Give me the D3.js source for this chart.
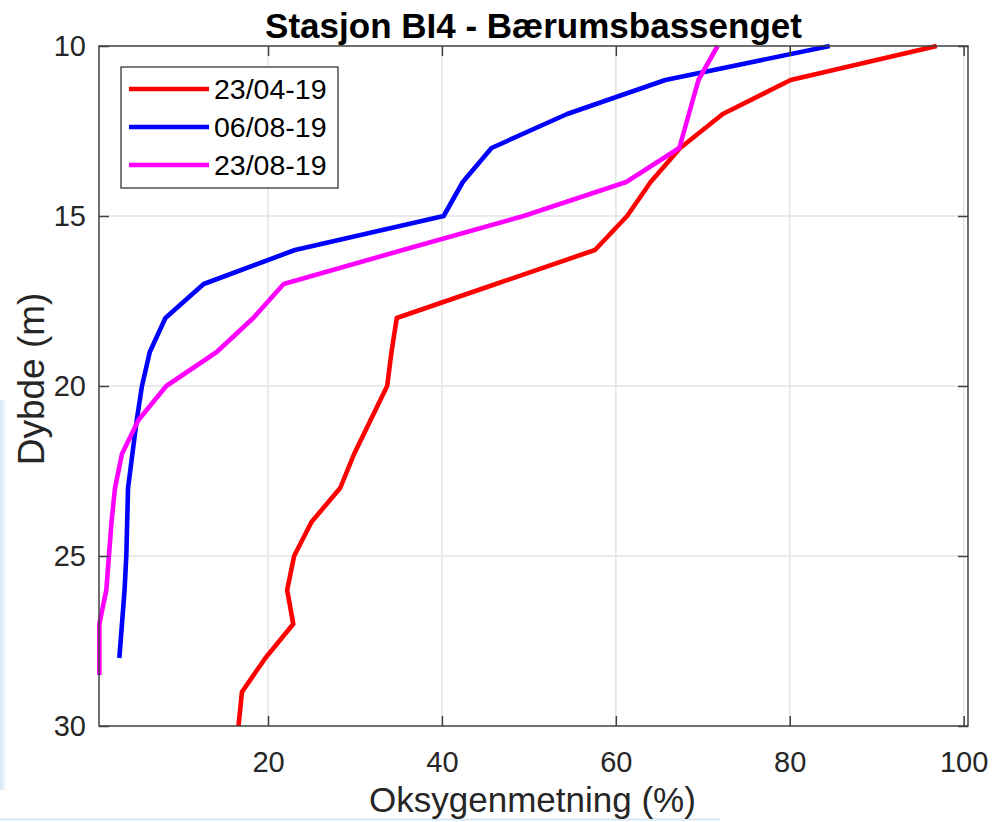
<!DOCTYPE html>
<html>
<head>
<meta charset="utf-8">
<script src="https://cdn.jsdelivr.net/npm/d3@7"></script>
<style>
  body { margin: 0; background: #fff; }
  text { font-family: "Liberation Sans", Arial, sans-serif; fill: #262626; }
</style>
</head>
<body>
<script>
// depth (m) for each profile
var depth1 = [10, 11, 12, 13, 14, 15, 16, 17, 18, 19, 20, 21, 22, 23, 24, 25, 26, 27, 28, 29, 30];
var depth2 = [10, 11, 12, 13, 14, 15, 16, 17, 18, 19, 20, 21, 22, 23, 24, 25, 26, 27, 28];
var depth3 = [10, 11, 12, 13, 14, 15, 16, 17, 18, 19, 20, 21, 22, 23, 24, 25, 26, 27, 28, 28.5];

// oxygen saturation (%)
var oxy1 = [96.9, 80.1, 72.3, 67.4, 64.0, 61.3, 57.6, 46.2, 34.8, 34.2, 33.7, 31.8, 29.9, 28.3, 25.0, 23.0, 22.2, 22.9, 19.7, 17.0, 16.6];
var oxy2 = [84.6, 65.7, 54.4, 45.7, 42.4, 40.2, 23.1, 12.6, 8.2, 6.4, 5.5, 4.9, 4.4, 3.9, 3.8, 3.7, 3.5, 3.2, 2.9];
var oxy3 = [71.7, 69.5, 68.4, 67.3, 61.2, 49.4, 35.5, 21.8, 18.3, 14.1, 8.3, 5.1, 3.2, 2.4, 2.0, 1.7, 1.4, 0.6, 0.6, 0.6];

var seriesNames = ["23/04-19", "06/08-19", "23/08-19"];
var seriesColors = ["#ff0000", "#0000ff", "#ff00ff"];

var xTicks = [20, 40, 60, 80, 100];
var yTicks = [10, 15, 20, 25, 30];

var margin = {top: 46, right: 24, bottom: 96, left: 99},
    width = 992 - margin.left - margin.right,
    height = 822 - margin.top - margin.bottom;

var x = d3.scaleLinear().domain([0.56, 100.5]).range([0, width]),
    y = d3.scaleLinear().domain([10, 30]).range([0, height]);

var svg = d3.select("body").append("svg")
  .attr("width", 992)
  .attr("height", 822);

// faint blue edge left from the screen grab
var grad = svg.append("defs").append("linearGradient")
  .attr("id", "edge").attr("x1", 0).attr("x2", 1);
grad.append("stop").attr("offset", 0).attr("stop-color", "#d3e6f4");
grad.append("stop").attr("offset", 1).attr("stop-color", "#ffffff");
svg.append("rect").attr("x", 0).attr("y", 400).attr("width", 7).attr("height", 390)
  .attr("fill", "url(#edge)");
svg.append("line").attr("x1", 0).attr("x2", 720).attr("y1", 819.5).attr("y2", 819.5)
  .attr("stroke", "#d8e8f4").attr("stroke-width", 2);

var g = svg.append("g")
  .attr("transform", "translate(" + margin.left + "," + margin.top + ")");

// grid
g.append("g").selectAll("line").data(xTicks).enter().append("line")
  .attr("x1", function(d) { return x(d); })
  .attr("x2", function(d) { return x(d); })
  .attr("y1", 0).attr("y2", height)
  .attr("stroke", "#e3e3e3").attr("stroke-width", 1.5);
g.append("g").selectAll("line").data(yTicks.slice(1, -1)).enter().append("line")
  .attr("y1", function(d) { return y(d); })
  .attr("y2", function(d) { return y(d); })
  .attr("x1", 0).attr("x2", width)
  .attr("stroke", "#e3e3e3").attr("stroke-width", 1.5);

// profiles
var line = d3.line()
  .x(function(d) { return x(d[0]); })
  .y(function(d) { return y(d[1]); });

var profiles = [d3.zip(oxy1, depth1), d3.zip(oxy2, depth2), d3.zip(oxy3, depth3)];

g.append("g").selectAll("path").data(profiles).enter().append("path")
  .attr("d", line)
  .attr("fill", "none")
  .attr("stroke", function(d, i) { return seriesColors[i]; })
  .attr("stroke-width", 4.6)
  .attr("stroke-linejoin", "round");

// axes, ticks inside on all four sides
function styleAxis(sel) {
  sel.select(".domain").remove();
  sel.selectAll(".tick line").attr("stroke", "#404040").attr("stroke-width", 1.5);
  sel.selectAll(".tick text").style("font-size", "29px").attr("fill", "#262626");
}

g.append("g")
  .attr("transform", "translate(0," + height + ")")
  .call(d3.axisBottom(x).tickValues(xTicks).tickSize(-10).tickPadding(25))
  .call(styleAxis);
g.append("g")
  .call(d3.axisTop(x).tickValues(xTicks).tickSize(-10).tickFormat(""))
  .call(styleAxis);
g.append("g")
  .call(d3.axisLeft(y).tickValues(yTicks).tickSize(-10).tickPadding(13))
  .call(styleAxis);
g.append("g")
  .attr("transform", "translate(" + width + ",0)")
  .call(d3.axisRight(y).tickValues(yTicks).tickSize(-10).tickFormat(""))
  .call(styleAxis);

g.append("rect")
  .attr("width", width).attr("height", height)
  .attr("fill", "none").attr("stroke", "#404040").attr("stroke-width", 1.5);

// titles
svg.append("text")
  .attr("x", margin.left + width / 2).attr("y", 38)
  .attr("text-anchor", "middle")
  .style("font-size", "35px").style("font-weight", "bold")
  .style("fill", "#000")
  .text("Stasjon BI4 - Bærumsbassenget");

svg.append("text")
  .attr("x", margin.left + width / 2 - 1).attr("y", 812)
  .attr("text-anchor", "middle")
  .style("font-size", "35px")
  .text("Oksygenmetning (%)");

svg.append("text")
  .attr("transform", "translate(44," + (margin.top + height / 2 - 7) + ") rotate(-90)")
  .attr("text-anchor", "middle")
  .style("font-size", "37px")
  .text("Dybde (m)");

// legend
var legend = g.append("g").attr("transform", "translate(22,21)");
legend.append("rect")
  .attr("width", 217).attr("height", 121)
  .attr("fill", "#fff").attr("stroke", "#262626").attr("stroke-width", 1.2);

var item = legend.selectAll(".item").data(seriesNames).enter().append("g")
  .attr("transform", function(d, i) { return "translate(0," + (22 + i * 38) + ")"; });
item.append("line")
  .attr("x1", 8).attr("x2", 88)
  .attr("stroke", function(d, i) { return seriesColors[i]; })
  .attr("stroke-width", 4.6);
item.append("text")
  .attr("x", 93).attr("y", 10)
  .style("font-size", "28.5px").style("fill", "#000")
  .text(function(d) { return d; });
</script>
</body>
</html>
